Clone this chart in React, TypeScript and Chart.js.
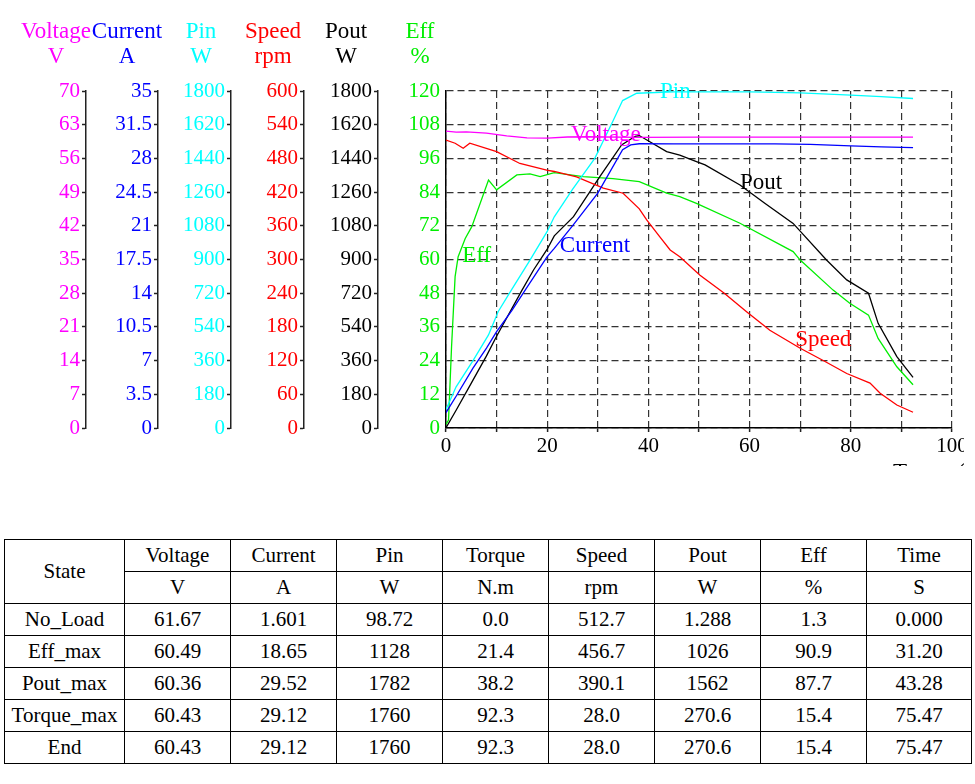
import React, { useEffect, useRef } from 'react';
import { Chart, registerables } from 'chart.js';

Chart.register(...registerables);

const FONT = "'Liberation Serif', 'Times New Roman', Times, serif";

// ---------- series data (x = torque N.m) ----------
const voltageTorque = [0, 2, 4, 8, 12, 16, 20, 24, 28, 38.2, 50, 70, 92.3];
const voltageV = [61.67, 61.45, 61.5, 61.25, 60.7, 60.25, 60.2, 60.45, 60.5, 60.36, 60.43, 60.43, 60.43];

const currentTorque = [0, 2, 5.3, 8, 10, 13, 16, 20, 21.4, 25, 30, 34.9, 36.5, 38.2, 45, 55, 65, 72, 80, 86, 92.3];
const currentA = [1.6, 3.3, 6.2, 8.3, 10, 12.2, 14.6, 17.8, 18.65, 21, 24.4, 28.9, 29.4, 29.52, 29.5, 29.5, 29.5, 29.45, 29.3, 29.2, 29.12];

const pinTorque = [0, 2, 5.4, 8.4, 10.3, 13, 16.6, 20, 21.4, 25, 29.4, 33, 34.9, 37.7, 45, 60, 70, 80, 86, 92.3];
const pinW = [98.7, 220, 363, 497, 621, 740, 897, 1050, 1128, 1275, 1440, 1640, 1749, 1788, 1795, 1795, 1790, 1778, 1770, 1760];

const speedTorque = [0, 1.8, 3.4, 4.7, 10, 14.6, 19.9, 21.4, 25.8, 31.1, 35, 38.2, 39.7, 42.3, 44.3, 46.2, 50.2, 55, 59.4, 64, 70, 75, 79.2, 83.8, 85.8, 89.1, 92.3];
const speedRpm = [512.7, 507, 498, 507, 492, 471, 459, 456.7, 447, 427, 418, 390.1, 370, 340, 317, 305, 272, 240, 207, 174, 142, 118, 97, 80, 62, 41, 28];

const poutTorque = [0, 2, 5, 8, 10, 15, 17.3, 20, 21.4, 25.2, 30.4, 34.7, 37.4, 38.2, 43.6, 46.2, 49.5, 51.2, 58.1, 63, 68.6, 75.2, 79.2, 83.5, 85.4, 89.1, 92.3];
const poutW = [1.3, 95, 240, 385, 490, 735, 844, 955, 1026, 1129, 1343, 1512, 1558, 1562, 1476, 1458, 1423, 1405, 1298, 1200, 1093, 897, 791, 720, 559, 381, 270.6];

const effTorque = [0, 0.5, 1.1, 1.8, 2.4, 3.8, 5.1, 8.4, 10, 14, 16.6, 18.6, 21.4, 27.1, 33, 38.2, 43.6, 46.2, 49.5, 58.1, 68.6, 70, 76.5, 79.8, 83.5, 85.4, 89.1, 92.3];
const effPct = [1.3, 2.8, 29, 53.9, 61, 67.5, 71.7, 88.3, 84.8, 90.1, 90.5, 89.5, 90.9, 89.5, 88.8, 87.7, 83.6, 82.4, 80, 72.9, 62.8, 59.8, 49.1, 44.4, 40.2, 31.9, 21.8, 15.4];

// ---------- axes ----------
const axisIds = ['yV', 'yA', 'yPin', 'ySpeed', 'yPout', 'yEff'];
const axisTitles = ['Voltage', 'Current', 'Pin', 'Speed', 'Pout', 'Eff'];
const axisUnits = ['V', 'A', 'W', 'rpm', 'W', '%'];
const axisMax = [70, 35, 1800, 600, 1800, 120];
const axisStep = [7, 3.5, 180, 60, 180, 12];
const axisColors = ['#ff00ff', '#0000ff', '#00ffff', '#ff0000', '#000000', '#00ee00'];
const axisWidths = [72, 72, 73, 73, 74, 68];
const titleOffsets = [30, 31, 30, 31, 32, 26];

const xTickStep = 10;
const xMax = 100;
const xTitle = 'Torque(N.m)';

// curve labels: text, torque, eff-scale value
const curveLabelText = ['Pin', 'Voltage', 'Pout', 'Current', 'Eff', 'Speed'];
const curveLabelX = [42.3, 24.7, 58.1, 22.5, 3.2, 69];
const curveLabelY = [119.7, 104.3, 87.2, 64.8, 61.3, 31.3];
const curveLabelColor = ['#00ffff', '#ff00ff', '#000000', '#0000ff', '#00ee00', '#ff0000'];

// ---------- table ----------
const tableHeaders = ['Voltage', 'Current', 'Pin', 'Torque', 'Speed', 'Pout', 'Eff', 'Time'];
const tableUnits = ['V', 'A', 'W', 'N.m', 'rpm', 'W', '%', 'S'];
const tableStates = ['No_Load', 'Eff_max', 'Pout_max', 'Torque_max', 'End'];
const tableValues = [
  ['61.67', '1.601', '98.72', '0.0', '512.7', '1.288', '1.3', '0.000'],
  ['60.49', '18.65', '1128', '21.4', '456.7', '1026', '90.9', '31.20'],
  ['60.36', '29.52', '1782', '38.2', '390.1', '1562', '87.7', '43.28'],
  ['60.43', '29.12', '1760', '92.3', '28.0', '270.6', '15.4', '75.47'],
  ['60.43', '29.12', '1760', '92.3', '28.0', '270.6', '15.4', '75.47'],
];
const colWidths = [120, 106, 106, 106, 106, 106, 106, 106, 105];

const TICK_SIZE = 21;
const TITLE_SIZE = 23;

function pts(xs: number[], ys: number[]) {
  return xs.map((x, i) => ({ x, y: ys[i] }));
}

const fmt = (v: number | string) => String(Number(Number(v).toFixed(2)));

export default function App() {
  const ref = useRef<HTMLCanvasElement | null>(null);

  useEffect(() => {
    if (!ref.current) return;
    Chart.defaults.font.family = FONT;
    Chart.defaults.font.size = TICK_SIZE;

    const seriesX = [voltageTorque, currentTorque, pinTorque, speedTorque, poutTorque, effTorque];
    const seriesY = [voltageV, currentA, pinW, speedRpm, poutW, effPct];

    const datasets = axisIds.map((id, i) => ({
      label: axisTitles[i],
      data: pts(seriesX[i], seriesY[i]),
      yAxisID: id,
      borderColor: axisColors[i],
      borderWidth: 1.3,
      pointRadius: 0,
      fill: false,
      tension: 0,
    }));

    const scales: any = {
      x: {
        type: 'linear',
        min: 0,
        max: xMax,
        afterFit: (s: any) => { s.height = 40; },
        ticks: {
          stepSize: xTickStep,
          autoSkip: false,
          maxRotation: 0,
          color: '#000',
          padding: 2,
          font: { size: TICK_SIZE, family: FONT },
          callback: (v: any) => (Number(v) % 20 === 0 ? String(v) : ''),
        },
        grid: { color: '#333', lineWidth: 1.2, drawTicks: true, tickLength: 4, tickColor: '#222', tickWidth: 1.5 },
        border: { display: true, color: '#000', width: 1.5, dash: [7, 4] },
      },
    };

    axisIds.forEach((id, i) => {
      const isEff = id === 'yEff';
      scales[id] = {
        type: 'linear',
        position: 'left',
        min: 0,
        max: axisMax[i],
        weight: axisIds.length - 1 - i,
        afterFit: (s: any) => { s.width = axisWidths[i]; },
        ticks: {
          stepSize: axisStep[i],
          color: axisColors[i],
          padding: isEff ? 6 : 2,
          font: { size: TICK_SIZE, family: FONT },
          callback: (v: any) => fmt(v),
        },
        grid: isEff
          ? { drawOnChartArea: true, drawTicks: false, color: '#333', lineWidth: 1.2 }
          : { drawOnChartArea: false, drawTicks: true, tickLength: 4, tickColor: '#222', tickWidth: 1.5 },
        border: isEff
          ? { display: true, color: '#000', width: 1.5, dash: [7, 4] }
          : { display: true, color: '#222', width: 1.5 },
      };
    });

    const textPlugin = {
      id: 'textPlugin',
      afterDraw(chart: any) {
        const ctx = chart.ctx;
        ctx.save();
        ctx.font = `${TITLE_SIZE}px ${FONT}`;
        ctx.textBaseline = 'middle';
        ctx.textAlign = 'center';
        axisIds.forEach((id, i) => {
          const s = chart.scales[id];
          const cx = s.right - titleOffsets[i];
          ctx.fillStyle = axisColors[i];
          ctx.fillText(axisTitles[i], cx, 32);
          ctx.fillText(axisUnits[i], cx, 57);
        });
        ctx.textAlign = 'left';
        ctx.fillStyle = '#000';
        ctx.textBaseline = 'top';
        ctx.fillText(xTitle, 893, 461);
        ctx.restore();
      },
      afterDatasetsDraw(chart: any) {
        const ctx = chart.ctx;
        const xs = chart.scales.x;
        const ys = chart.scales.yEff;
        ctx.save();
        ctx.font = `${TITLE_SIZE}px ${FONT}`;
        ctx.textBaseline = 'middle';
        ctx.textAlign = 'left';
        curveLabelText.forEach((t, i) => {
          ctx.fillStyle = curveLabelColor[i];
          ctx.fillText(t, xs.getPixelForValue(curveLabelX[i]), ys.getPixelForValue(curveLabelY[i]));
        });
        ctx.restore();
      },
    };

    const chart = new Chart(ref.current, {
      type: 'line',
      data: { datasets },
      options: {
        animation: false,
        responsive: false,
        maintainAspectRatio: false,
        layout: { padding: { left: 14, right: 48, top: 91, bottom: 22 } },
        plugins: { legend: { display: false }, tooltip: { enabled: false } },
        scales,
      },
      plugins: [textPlugin],
    } as any);

    return () => chart.destroy();
  }, []);

  const cell: React.CSSProperties = {
    border: '1.5px solid #000',
    padding: 0,
    textAlign: 'center',
    verticalAlign: 'middle',
    height: 31,
  };

  return (
    <div style={{ position: 'absolute', left: 0, top: 0, width: 975, height: 784, background: '#fff', fontFamily: FONT }}>
      <div style={{ position: 'absolute', left: 0, top: 0, width: 964, height: 466, overflow: 'hidden' }}>
        <canvas ref={ref} width={1000} height={490} style={{ display: 'block', width: 1000, height: 490 }} />
      </div>
      <table
        style={{
          position: 'absolute',
          left: 4,
          top: 539,
          width: 966,
          borderCollapse: 'collapse',
          tableLayout: 'fixed',
          fontSize: 21,
          fontFamily: FONT,
          color: '#000',
        }}
      >
        <colgroup>
          {colWidths.map((w, i) => (
            <col key={i} style={{ width: w }} />
          ))}
        </colgroup>
        <tbody>
          <tr>
            <td style={cell} rowSpan={2}>State</td>
            {tableHeaders.map((h) => (
              <td key={h} style={cell}>{h}</td>
            ))}
          </tr>
          <tr>
            {tableUnits.map((u, i) => (
              <td key={i} style={cell}>{u}</td>
            ))}
          </tr>
          {tableStates.map((s, r) => (
            <tr key={s}>
              <td style={cell}>{s}</td>
              {tableValues[r].map((v, c) => (
                <td key={c} style={cell}>{v}</td>
              ))}
            </tr>
          ))}
        </tbody>
      </table>
    </div>
  );
}
